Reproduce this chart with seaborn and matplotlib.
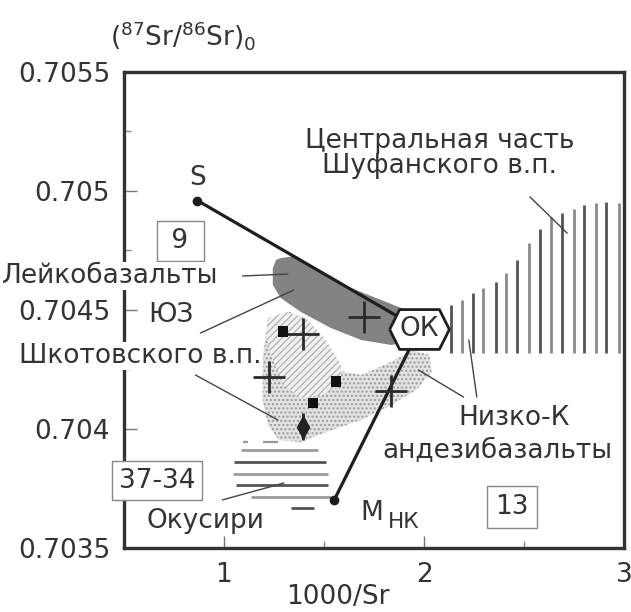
import matplotlib
matplotlib.use("Agg")
import matplotlib.pyplot as plt
import numpy as np
import pandas as pd
import seaborn as sns

# ---- data -------------------------------------------------------------
# end-members: S, OK (low-K andesibasalt) and M_NK
end_labels = ["S", "OK", "M"]
end_x = [0.867, 1.977, 1.550]
end_y = [0.70496, 0.70442, 0.70370]

# individual samples
cross_x = [1.394, 1.701, 1.224, 1.837]
cross_y = [0.70440, 0.70447, 0.70422, 0.70416]
square_x = [1.294, 1.560, 1.445]
square_y = [0.70441, 0.70420, 0.70411]
diamond_x = [1.394]
diamond_y = [0.70401]
diamond_err = [0.000057]

# leucobasalt field (SW Shkotovo plateau)
leuco_x = [1.26, 1.284, 1.359, 1.485, 1.636, 1.786, 1.887, 1.937, 1.95, 1.94,
           1.912, 1.837, 1.686, 1.535, 1.384, 1.284, 1.244, 1.244]
leuco_y = [0.704710, 0.704718, 0.704727, 0.704660, 0.704592, 0.704542, 0.704508,
           0.704466, 0.704437, 0.704395, 0.704366, 0.704353, 0.704374, 0.704424,
           0.704492, 0.704550, 0.704605, 0.704676]

# stippled field of Shkotovo plateau rocks
shk_x = [1.219, 1.334, 1.435, 1.560, 1.686, 1.837, 1.937, 2.028, 2.038, 1.962,
         1.837, 1.686, 1.510, 1.384, 1.274, 1.219, 1.193, 1.193]
shk_y = [0.704466, 0.704492, 0.704416, 0.704248, 0.704227, 0.704282, 0.704332,
         0.704311, 0.704239, 0.704164, 0.704101, 0.704038, 0.703987, 0.703945,
         0.703954, 0.704017, 0.704122, 0.704290]

# diagonally hatched sub-field
sw_x = [1.224, 1.309, 1.410, 1.510, 1.585, 1.585, 1.485, 1.384, 1.299, 1.244, 1.209]
sw_y = [0.704466, 0.704492, 0.704466, 0.704374, 0.704269, 0.704185, 0.704143,
        0.704130, 0.704185, 0.704290, 0.704395]

# central Shufan plateau (vertical ruling)
shuf_x = [2.133, 2.188, 2.244, 2.294, 2.359, 2.410, 2.465, 2.525, 2.580, 2.636,
          2.691, 2.751, 2.802, 2.862, 2.912, 2.977]
shuf_top = [0.704521, 0.704542, 0.704571, 0.704592, 0.704618, 0.704655, 0.704710,
            0.704782, 0.704840, 0.704891, 0.704908, 0.704924, 0.704941, 0.704950,
            0.704954, 0.704950]
shuf_bottom = 0.70432

# Okushiri (horizontal ruling)
oku_y = [0.703912, 0.703861, 0.703811, 0.703765, 0.703714, 0.703668]
oku_x0 = [1.083, 1.048, 1.043, 1.058, 1.133, 1.334]
oku_x1 = [1.470, 1.510, 1.520, 1.520, 1.535, 1.450]
oku_dash_y = 0.703945
oku_dash_x0 = [1.093, 1.193]
oku_dash_x1 = [1.118, 1.269]

# leader lines: x0, y0, x1, y1
leaders = [
    (1.093, 0.704643, 1.319, 0.704651),
    (0.882, 0.704403, 1.349, 0.704584),
    (0.857, 0.704227, 1.269, 0.704038),
    (2.530, 0.704975, 2.716, 0.704823),
    (2.224, 0.704374, 2.264, 0.704134),
    (1.972, 0.704248, 2.198, 0.704134),
    (0.992, 0.703702, 1.299, 0.703773),
]

xticks = [1, 2, 3]
yticks = [0.7035, 0.704, 0.7045, 0.705, 0.7055]
yticklabels = ["0.7035", "0.704", "0.7045", "0.705", "0.7055"]

# ---- style ------------------------------------------------------------
sns.set_theme(style="white")
plt.rcParams["font.family"] = ["DejaVu Sans"]
plt.rcParams["mathtext.fontset"] = "dejavusans"
plt.rcParams["hatch.linewidth"] = 1.0
FS = 19
TXT = "#333333"

fig = plt.figure(figsize=(6.31, 6.12), dpi=100)
ax = fig.add_axes([124 / 631, 1 - 548 / 612, 500 / 631, 476 / 612])
ax.set_xlim(0.5, 3.0)
ax.set_ylim(0.7035, 0.7055)

# fields
ax.fill(shk_x, shk_y, facecolor="#e2e2e2", edgecolor="#999999", hatch="....",
        linewidth=0, zorder=1)
ax.fill(sw_x, sw_y, facecolor="#f2f2f2", edgecolor="#b5b5b5", hatch="/////",
        linewidth=0, zorder=1.2)
ax.fill(leuco_x, leuco_y, facecolor="#838383", edgecolor="none", zorder=2)

shuf_cols = ["#555555", "#8a8a8a"] * 8
ax.vlines(shuf_x, shuf_bottom, shuf_top, colors=shuf_cols, linewidth=2.0, zorder=2)

oku_cols = ["#9a9a9a", "#555555"] * 3
ax.hlines(oku_y, oku_x0, oku_x1, colors=oku_cols, linewidth=2.0, zorder=2)
ax.hlines([oku_dash_y] * 2, oku_dash_x0, oku_dash_x1, colors="#999999",
          linewidth=1.6, zorder=2)

for x0, y0, x1, y1 in leaders:
    ax.plot([x0, x1], [y0, y1], color="#444444", linewidth=1.0, zorder=2.5)

# mixing lines S-OK and M-OK
mix = pd.DataFrame({
    "x": [end_x[0], end_x[1], end_x[2], end_x[1]],
    "y": [end_y[0], end_y[1], end_y[2], end_y[1]],
    "line": ["S", "S", "M", "M"],
})
sns.lineplot(data=mix, x="x", y="y", units="line", estimator=None, sort=False,
             color="#1e1e1e", linewidth=2.3, ax=ax, zorder=3, legend=False)
ax.plot([end_x[0], end_x[2]], [end_y[0], end_y[2]], "o", color="#1e1e1e",
        markersize=6, zorder=3.5, linestyle="none")

# samples
sns.scatterplot(x=cross_x, y=cross_y, marker="+", s=520, color="#2b2b2b",
                linewidth=2.0, ax=ax, zorder=4, legend=False)
sns.scatterplot(x=square_x, y=square_y, marker="s", s=55, color="#111111",
                edgecolor="none", ax=ax, zorder=4, legend=False)
ax.errorbar(diamond_x, diamond_y, yerr=diamond_err, fmt="d", color="#222222",
            markersize=11, elinewidth=2, capsize=0, zorder=4)

# OK hexagon
hexagon = [(-1.5, 0), (-1.0, 1), (1.0, 1), (1.5, 0), (1.0, -1), (-1.0, -1), (-1.5, 0)]
ax.plot([end_x[1]], [end_y[1]], marker=hexagon, markersize=43, markerfacecolor="white",
        markeredgecolor="#1e1e1e", markeredgewidth=2.0, zorder=5, linestyle="none")
ax.text(end_x[1], end_y[1], "ОК", ha="center", va="center", fontsize=FS,
        color=TXT, zorder=6)

# ---- labels -----------------------------------------------------------
ax.text(end_x[0], 0.705025, "S", ha="center", va="baseline", fontsize=FS, color=TXT)
ax.text(1.68, 0.703618, "M", ha="left", va="baseline", fontsize=FS, color=TXT)
ax.text(1.82, 0.703584, "НК", ha="left", va="baseline", fontsize=15.5, color=TXT)

box = dict(boxstyle="square,pad=0.25", facecolor="white", edgecolor="#888888",
           linewidth=1.0)
ax.text(0.781, 0.70479, " 9 ", ha="center", va="center", fontsize=FS, color=TXT,
        bbox=box, zorder=6)
ax.text(0.665, 0.703782, "37-34", ha="center", va="center", fontsize=FS, color=TXT,
        bbox=box, zorder=6, clip_on=False)
ax.text(2.44, 0.703672, "13", ha="center", va="center", fontsize=FS, color=TXT,
        bbox=dict(boxstyle="square,pad=0.3", facecolor="white", edgecolor="#888888",
                  linewidth=1.0), zorder=6)

white = dict(boxstyle="square,pad=0.05", facecolor="white", edgecolor="none")
ax.text(0.97, 0.704613, "Лейкобазальты", ha="right", va="baseline", fontsize=FS,
        color=TXT, bbox=white, zorder=6, clip_on=False)
ax.text(0.735, 0.70445, "ЮЗ", ha="center", va="baseline", fontsize=FS, color=TXT,
        zorder=6)
ax.text(1.19, 0.704277, "Шкотовского в.п.", ha="right", va="baseline", fontsize=FS,
        color=TXT, bbox=white, zorder=6, clip_on=False)
ax.text(2.08, 0.705181, "Центральная часть", ha="center", va="baseline",
        fontsize=FS, color=TXT, zorder=6)
ax.text(2.08, 0.705076, "Шуфанского в.п.", ha="center", va="baseline",
        fontsize=FS, color=TXT, zorder=6)
ax.text(2.45, 0.704017, "Низко-К", ha="center", va="baseline", fontsize=FS,
        color=TXT, zorder=6)
ax.text(2.945, 0.703878, "андезибазальты", ha="right", va="baseline", fontsize=FS,
        color=TXT, zorder=6)
ax.text(0.615, 0.703584, "Окусири", ha="left", va="baseline", fontsize=FS,
        color=TXT, zorder=6)

# ---- axes -------------------------------------------------------------
ax.set_xticks(xticks)
ax.set_xticklabels([str(t) for t in xticks])
ax.set_xticks([1.5, 2.5], minor=True)
ax.set_yticks(yticks)
ax.set_yticklabels(yticklabels)
ax.set_yticks([0.70375, 0.70425, 0.70475, 0.70525], minor=True)
ax.tick_params(which="major", direction="in", length=9, width=1.0, colors="#777777",
               labelcolor=TXT, labelsize=FS, pad=10, left=True, bottom=True)
ax.tick_params(which="minor", direction="in", length=5, width=1.0, colors="#888888",
               left=True, bottom=True)
for sp in ax.spines.values():
    sp.set_visible(True)
    sp.set_color("#333333")
    sp.set_linewidth(2.4)
ax.set_xlabel("")
ax.set_ylabel("")
fig.text(338 / 631, 1 - 597 / 612, "1000/Sr", ha="center", va="center", fontsize=FS,
         color=TXT)
fig.text(110 / 631, 1 - 45 / 612, r"$(^{87}\mathregular{Sr}/^{86}\mathregular{Sr})_0$",
         ha="left", va="baseline", fontsize=FS, color=TXT)

fig.savefig("out.png", dpi=100)
